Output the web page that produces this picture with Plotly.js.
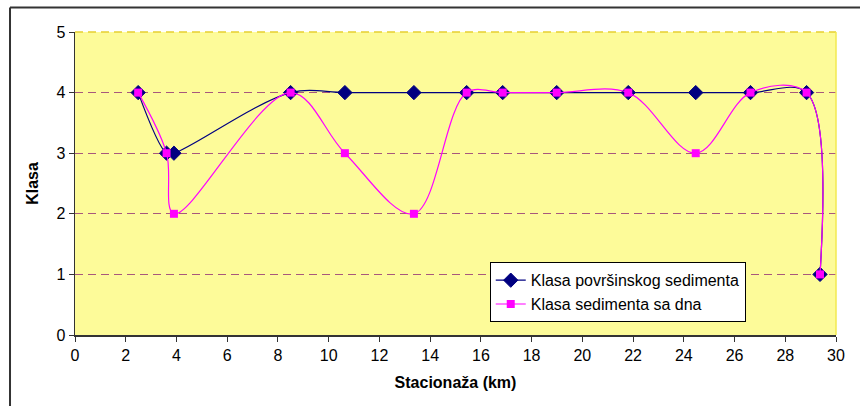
<!DOCTYPE html>
<html>
<head>
<meta charset="utf-8">
<script src="https://cdn.plot.ly/plotly-3.0.1.min.js"></script>
<style>
html,body{margin:0;padding:0;background:#fff;}
#chart{width:860px;height:406px;}
</style>
</head>
<body>
<div id="chart"></div>
<script>
const stationKm = [2.49, 3.61, 3.9, 8.5, 10.64, 13.36, 15.44, 16.86, 18.99, 21.81, 24.47, 26.63, 28.84, 29.37];
const surfaceClass = [4, 3, 3, 4, 4, 4, 4, 4, 4, 4, 4, 4, 4, 1];
const bottomClass = [4, 3, 2, 4, 3, 2, 4, 4, 4, 4, 3, 4, 4, 1];
const seriesNames = ["Klasa površinskog sedimenta", "Klasa sedimenta sa dna"];
const xTicks = [0, 2, 4, 6, 8, 10, 12, 14, 16, 18, 20, 22, 24, 26, 28, 30];
const yTicks = [0, 1, 2, 3, 4, 5];

const traces = [
  {
    x: stationKm, y: surfaceClass, name: seriesNames[0], type: "scatter", mode: "lines+markers",
    line: {color: "#000080", width: 1.2, shape: "spline", smoothing: 1},
    marker: {symbol: "diamond", size: 11, color: "#000080", line: {color: "#000080", width: 1}}
  },
  {
    x: stationKm, y: bottomClass, name: seriesNames[1], type: "scatter", mode: "lines+markers",
    line: {color: "#FF00FF", width: 1.2, shape: "spline", smoothing: 1},
    marker: {symbol: "square", size: 8, color: "#FF00FF", line: {width: 0}}
  }
];

const layout = {
  width: 860, height: 406,
  margin: {l: 75, r: 24, t: 32, b: 71},
  paper_bgcolor: "#ffffff",
  plot_bgcolor: "#FDFB99",
  font: {family: "Liberation Sans, Arial, sans-serif", size: 16, color: "#000"},
  showlegend: true,
  legend: {
    x: 0.545, y: 0.24, xanchor: "left", yanchor: "top",
    bgcolor: "#ffffff", bordercolor: "#000", borderwidth: 1,
    font: {size: 16, family: "Liberation Sans, Arial, sans-serif"},
    tracegroupgap: 0, itemwidth: 30
  },
  xaxis: {
    range: [0, 30], tickvals: xTicks, ticktext: xTicks.map(String),
    showgrid: false, zeroline: false,
    showline: true, linecolor: "#333", linewidth: 1.5,
    ticks: "outside", ticklen: 5, tickcolor: "#333",
    tickfont: {size: 16},
    title: {text: "<b>Stacionaža (km)</b>", font: {size: 16}, standoff: 14}
  },
  yaxis: {
    range: [0, 5], tickvals: yTicks, ticktext: yTicks.map(String),
    showgrid: true, gridcolor: "#A8587C", griddash: "8px,5px", gridwidth: 1,
    zeroline: false,
    showline: true, linecolor: "#333", linewidth: 1.5,
    ticks: "outside", ticklen: 5, tickcolor: "#333",
    tickfont: {size: 16},
    title: {text: "<b>Klasa</b>", font: {size: 16}, standoff: 14}
  },
  shapes: [
    {type: "line", xref: "paper", yref: "paper", x0: 0, x1: 1, y0: 1, y1: 1,
     line: {color: "#E6D030", width: 1.5, dash: "8px,5px"}, layer: "above"},
    {type: "line", xref: "paper", yref: "paper", x0: 1, x1: 1, y0: 0, y1: 1,
     line: {color: "#F2EA50", width: 1.5}, layer: "above"},
    {type: "line", xref: "paper", yref: "paper", x0: -0.0854, x1: 1.04, y0: 1.081, y1: 1.081,
     line: {color: "#333", width: 2}, layer: "above"},
    {type: "line", xref: "paper", yref: "paper", x0: -0.0854, x1: -0.0854, y0: -0.3, y1: 1.081,
     line: {color: "#333", width: 2}, layer: "above"}
  ]
};

Plotly.newPlot("chart", traces, layout, {displayModeBar: false, staticPlot: true});
</script>
</body>
</html>
